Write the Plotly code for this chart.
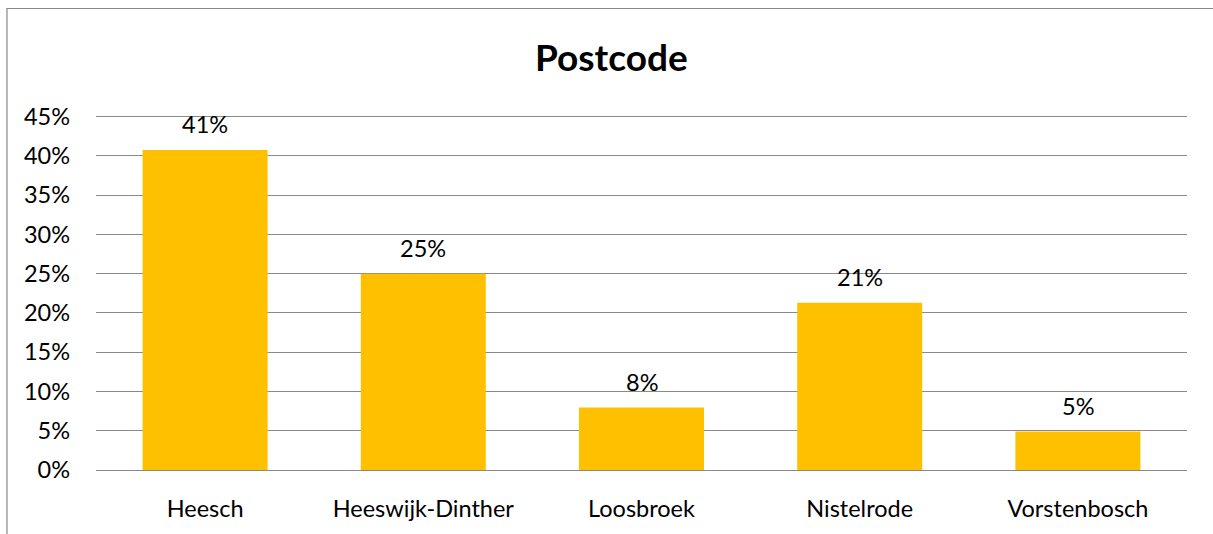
import plotly.graph_objects as go

categories = ["Heesch", "Heeswijk-Dinther", "Loosbroek", "Nistelrode", "Vorstenbosch"]
values = [0.4075, 0.250, 0.0795, 0.213, 0.049]
tick_vals = [0, 0.05, 0.10, 0.15, 0.20, 0.25, 0.30, 0.35, 0.40, 0.45]
tick_text = ["0%", "5%", "10%", "15%", "20%", "25%", "30%", "35%", "40%", "45%"]

FONT = "Lato"
GRID = "#898989"
FS = 23.5

fig = go.Figure()
fig.add_trace(go.Bar(
    x=categories, y=values,
    marker=dict(color="#FFC000", line=dict(width=0)),
    hoverinfo="skip",
))

for c, v in zip(categories, values):
    fig.add_annotation(
        x=c, y=v, text=f"{v:.0%}", showarrow=False,
        yanchor="bottom", yshift=10,
        font=dict(family=FONT, size=FS, color="#000000"),
    )

fig.add_shape(type="rect", xref="paper", yref="paper",
              x0=-0.0816, x1=1.2, y0=-0.5, y1=1.3,
              line=dict(color="#878787", width=1.2), fillcolor="rgba(0,0,0,0)", layer="below")

fig.update_layout(
    width=1213, height=534,
    margin=dict(l=96, r=26, t=115.4, b=60),
    paper_bgcolor="white", plot_bgcolor="white",
    bargap=0.427,
    showlegend=False,
    title=dict(text="<b>Postcode</b>", x=0.504, xref="container", xanchor="center",
               y=1 - 58 / 534, yref="container", yanchor="middle",
               font=dict(family=FONT, size=37, color="#000000")),
    font=dict(family=FONT, size=FS, color="#000000"),
)
fig.update_yaxes(range=[0, 0.452], tickvals=tick_vals, ticktext=tick_text,
                 showgrid=True, gridcolor=GRID, gridwidth=1.3,
                 zeroline=False, showline=False, ticks="",
                 ticklabelstandoff=25, tickfont=dict(family=FONT, size=FS))
fig.update_xaxes(showline=True, linecolor=GRID, linewidth=1.3, ticks="",
                 ticklabelstandoff=18, tickfont=dict(family=FONT, size=FS))

fig.write_html("out.html", config={"displayModeBar": False},
               post_script="document.body.style.margin='0';document.body.style.overflow='hidden';")
